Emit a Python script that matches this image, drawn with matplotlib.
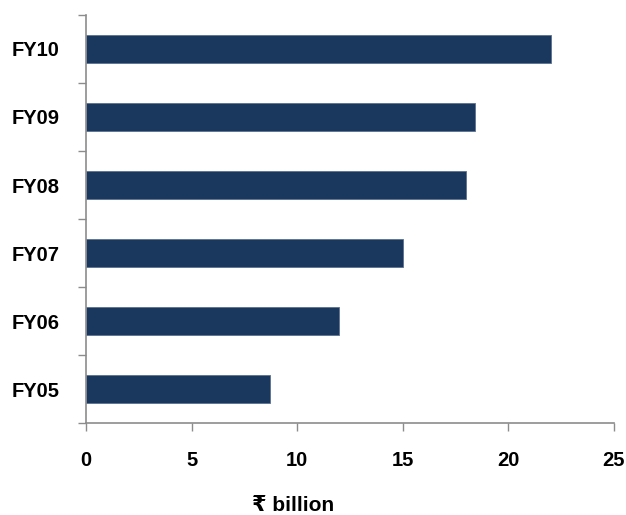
import matplotlib
matplotlib.use("Agg")
import matplotlib.pyplot as plt
import numpy as np

plt.rcParams["font.family"] = ["Liberation Sans", "DejaVu Sans"]

years = ["FY05", "FY06", "FY07", "FY08", "FY09", "FY10"]
values = [8.7, 12.0, 15.0, 18.0, 18.4, 22.0]
x_ticks = [0, 5, 10, 15, 20, 25]

BAR = "#1A385E"
AXIS = "#8C8C8C"

fig = plt.figure(figsize=(6.26, 5.15), dpi=100)
ax = fig.add_axes([0.1374, 0.1786, 0.8434, 0.7923])

y = np.arange(len(years))
ax.barh(y, values, height=0.4, color=BAR, edgecolor="#5a7090", linewidth=0.6)

ax.set_xlim(0, 25)
ax.set_ylim(-0.5, len(years) - 0.5)

ax.set_yticks(y)
ax.set_yticklabels(years, fontsize=14.5, fontweight="bold")
ax.set_yticks(np.arange(len(years) + 1) - 0.5, minor=True)
ax.tick_params(axis="y", which="major", length=0, pad=19)
ax.tick_params(axis="y", which="minor", length=6, width=1, color=AXIS, direction="out")

ax.set_xticks(x_ticks)
ax.set_xticklabels([str(t) for t in x_ticks], fontsize=14.5, fontweight="bold")
ax.tick_params(axis="x", length=6, width=1, color=AXIS, direction="out", pad=14)

for s in ["top", "right"]:
    ax.spines[s].set_visible(False)
for s in ["left", "bottom"]:
    ax.spines[s].set_color(AXIS)
    ax.spines[s].set_linewidth(1.2)

ax.set_xlabel("₹ billion", fontsize=15, fontweight="bold")
ax.xaxis.label.set_va("baseline")
ax.xaxis.set_label_coords((293 - 86) / 528, (423 - 511) / 408)

fig.savefig("out.png", dpi=100)
